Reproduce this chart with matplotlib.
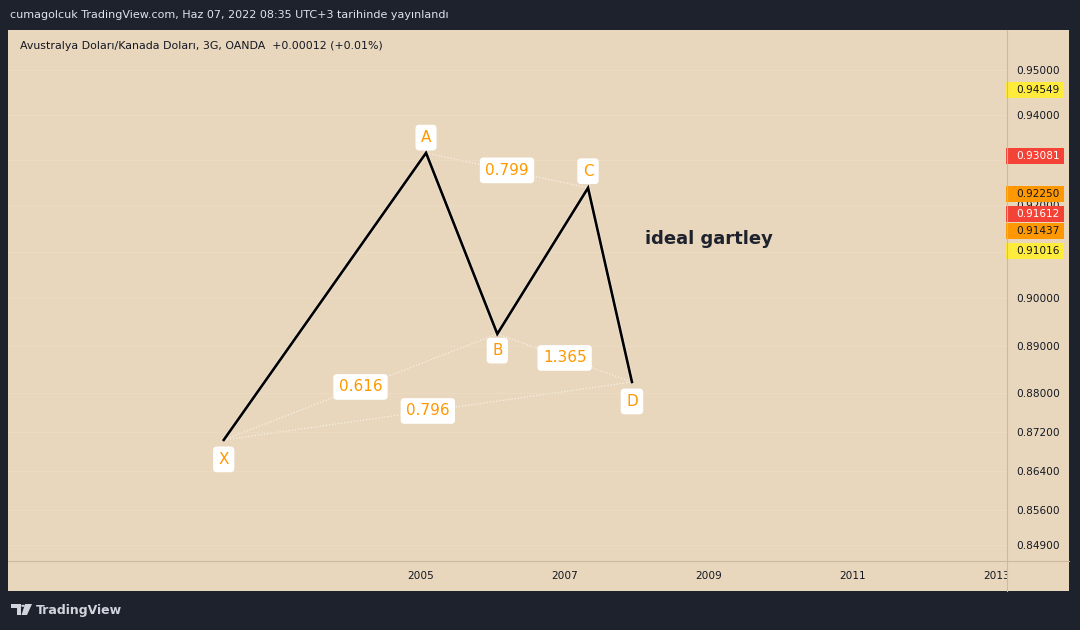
import numpy as np
import matplotlib.pyplot as plt
from matplotlib.patches import Rectangle, Polygon, Circle
from matplotlib.lines import Line2D
from matplotlib.ticker import FixedLocator, FuncFormatter, NullLocator

# XABCD pattern points (year, price)
point_names = ["X", "A", "B", "C", "D"]
point_years = [2002.26, 2005.07, 2006.06, 2007.32, 2007.93]
point_prices = [0.87035, 0.93152, 0.89246, 0.92384, 0.88237]

# Fibonacci ratio labels between pattern points
ratio_pairs = [("X", "B"), ("A", "C"), ("B", "D"), ("X", "D")]
ratio_labels = ["0.616", "0.799", "1.365", "0.796"]

# Price axis (0.93 and 0.91 sit under the price tags)
price_ticks = [0.95, 0.94, 0.93, 0.92, 0.91, 0.90, 0.89, 0.88, 0.872, 0.864, 0.856, 0.849]
hidden_ticks = [0.93, 0.91]
year_ticks = [2005, 2007, 2009, 2011, 2013]

# Price tags on the right scale
tag_prices = [0.94549, 0.93081, 0.92250, 0.91612, 0.91437, 0.91016]
tag_colors = ["#ffeb3b", "#f44336", "#ff9800", "#f44336", "#ff9800", "#ffeb3b"]
tag_text_colors = ["#131722", "white", "#131722", "white", "#131722", "#131722"]
tag_shift_px = [0, 0, 0, 9, 0, 0]  # pushed up to avoid overlap

note_text = "ideal gartley"
note_pos = (2008.11, 0.9128)

header = "cumagolcuk TradingView.com, Haz 07, 2022 08:35 UTC+3 tarihinde yayınlandı"
symbol = "Avustralya Doları/Kanada Doları, 3G, OANDA  +0.00012 (+0.01%)"

W, H = 1080, 630
bg_dark = "#1e222d"
bg = "#e9d7bd"
sep = "#cdb99e"
txt = "#131722"
orange = "#ff9800"


def fx(x):
    return x / W


def fy(y):
    return 1 - y / H


def price_fmt(v, _):
    if any(abs(v - h) < 1e-9 for h in hidden_ticks):
        return ""
    return f"{v:.5f}"


fig = plt.figure(figsize=(10.8, 6.3), dpi=100, facecolor=bg_dark)

# chart panel
fig.patches.append(Rectangle((fx(8), fy(591)), fx(1069 - 8), (591 - 30) / H,
                             transform=fig.transFigure, fc=bg, ec="none", zorder=-1))

ax = fig.add_axes([fx(8), fy(561), fx(999), 531 / H])
ax.set_facecolor("none")
ax.set_yscale("log")
ymin, ymax = 0.84578, 0.9590
ax.set_ylim(ymin, ymax)
ax.set_xlim(1999.264, 2013.139)

ax.yaxis.set_major_locator(FixedLocator(price_ticks))
ax.yaxis.set_minor_locator(NullLocator())
ax.yaxis.set_major_formatter(FuncFormatter(price_fmt))
ax.yaxis.set_minor_formatter(FuncFormatter(lambda v, _: ""))
ax.yaxis.tick_right()
ax.set_xticks(year_ticks)
ax.set_xticklabels([str(y) for y in year_ticks])
ax.tick_params(axis="y", length=0, pad=6.5, labelsize=7.6, labelcolor=txt)
ax.tick_params(axis="x", length=0, pad=7, labelsize=7.6, labelcolor=txt)
for lab in ax.get_xticklabels():
    lab.set_fontweight("medium")

for s in ["top", "left", "right", "bottom"]:
    ax.spines[s].set_visible(False)

ax.grid(axis="y", color="#ecdcc5", lw=0.6, zorder=0)

# pattern
pts = dict(zip(point_names, zip(point_years, point_prices)))
ax.plot(point_years, point_prices, color="white", lw=2.8, alpha=0.45, zorder=2,
        solid_joinstyle="miter")
ax.plot(point_years, point_prices, color="black", lw=1.9, zorder=3,
        solid_joinstyle="miter")

box = dict(boxstyle="round,pad=0.35,rounding_size=0.25", fc="white", ec="none")
for (a, b), lab in zip(ratio_pairs, ratio_labels):
    (x1, y1), (x2, y2) = pts[a], pts[b]
    ax.plot([x1, x2], [y1, y2], color="#f7f0e6", lw=0.9, ls=(0, (1, 1.5)), zorder=1)
    ax.text((x1 + x2) / 2, np.sqrt(y1 * y2), lab, ha="center", va="center",
            fontsize=11, color=orange, bbox=box, zorder=5)

label_offsets = {"X": -14, "A": 11, "B": -12, "C": 12, "D": -14}
for n, x, y in zip(point_names, point_years, point_prices):
    ax.annotate(n, (x, y), xytext=(0, label_offsets[n]), textcoords="offset points",
                ha="center", va="center", fontsize=11, color=orange, bbox=box, zorder=5)

ax.text(note_pos[0], note_pos[1], note_text, ha="left", va="center", fontsize=13,
        fontweight="bold", color="#1e222d", zorder=5)

# price tags
k = (np.log(ymax) - np.log(ymin)) / 531.0
ytr = ax.get_yaxis_transform()
for p, c, tc, sh in zip(tag_prices, tag_colors, tag_text_colors, tag_shift_px):
    pc = p * np.exp(sh * k)
    ax.add_patch(Rectangle(((1006 - 8) / 999, pc * np.exp(-8 * k)), 58 / 999,
                           pc * np.exp(8 * k) - pc * np.exp(-8 * k), transform=ytr,
                           fc=c, ec="none", clip_on=False, zorder=6))
    ax.text((1016 - 8) / 999, pc, f"{p:.5f}", transform=ytr, ha="left", va="center",
            fontsize=7.6, color=tc, clip_on=False, zorder=7)

# symbol line
fig.text(fx(20), fy(46), symbol, fontsize=7.9, color=txt, va="center", ha="left")

# separators and cover for the cut 2013 label
fig.patches.append(Rectangle((fx(1008), fy(590)), fx(61), 28 / H,
                             transform=fig.transFigure, fc=bg, ec="none", zorder=5))
fig.lines.append(Line2D([fx(1007), fx(1007)], [fy(30), fy(591)], color=sep, lw=0.8,
                        transform=fig.transFigure, zorder=6))
fig.lines.append(Line2D([fx(8), fx(1069)], [fy(561), fy(561)], color=sep, lw=0.8,
                        transform=fig.transFigure, zorder=6))

# header
fig.text(fx(10), fy(15), header, fontsize=8, color="#e0e3eb", va="center", ha="left")

# TradingView logo
logo = "#d1d4dc"
for poly in [
    [(11, 604), (21, 604), (21, 615), (16.5, 615), (16.5, 607.5), (11, 607.5)],
    [(25, 604), (32, 604), (27, 615), (21.5, 615)],
]:
    fig.patches.append(Polygon([(fx(x), fy(y)) for x, y in poly], closed=True,
                               transform=fig.transFigure, fc=logo, ec="none"))
fig.patches.append(Circle((fx(23), fy(605.8)), 1.8 / W, transform=fig.transFigure,
                          fc=logo, ec="none"))
fig.text(fx(36), fy(610.5), "TradingView", fontsize=9, color=logo, va="center",
         ha="left", fontweight="bold")

fig.savefig("out.png", dpi=100, facecolor=bg_dark)
